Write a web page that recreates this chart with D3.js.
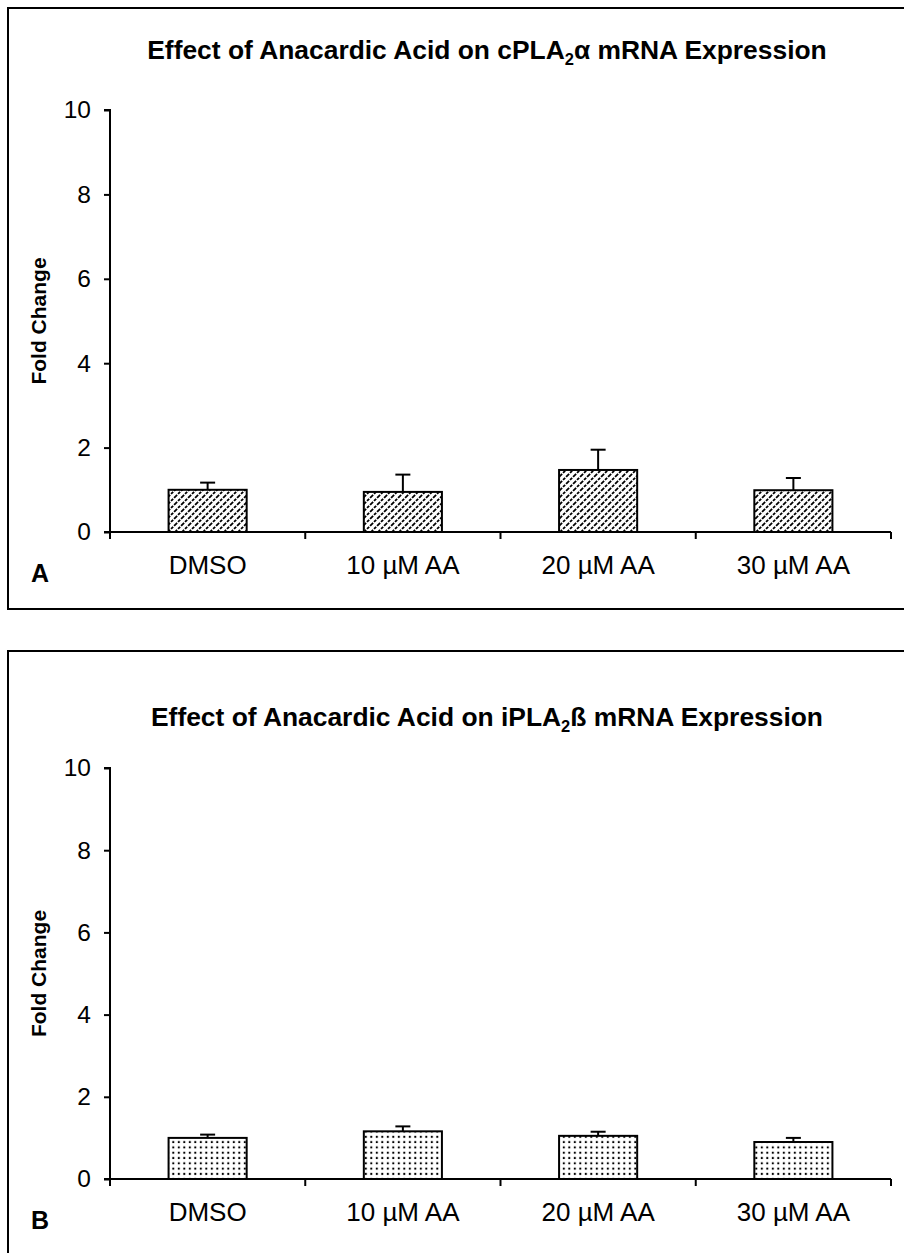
<!DOCTYPE html>
<html>
<head>
<meta charset="utf-8">
<script src="https://cdn.jsdelivr.net/npm/d3@7"></script>
<style>
  html, body { margin: 0; padding: 0; background: #fff; }
  svg { display: block; }
  text { font-family: "Liberation Sans", Arial, Helvetica, sans-serif; fill: #000; }
</style>
</head>
<body>
<svg id="chart" width="904" height="1253"></svg>
<script>
// ---- data ----
const categories = ["DMSO", "10 \u00b5M AA", "20 \u00b5M AA", "30 \u00b5M AA"];
const cplaValues = [1.0, 0.95, 1.47, 0.99];
const cplaErrors = [0.17, 0.41, 0.48, 0.29];
const iplaValues = [1.0, 1.16, 1.05, 0.90];
const iplaErrors = [0.08, 0.12, 0.10, 0.10];
const yTicks = [0, 2, 4, 6, 8, 10];
const panelLetters = ["A", "B"];

const svg = d3.select("#chart");
const defs = svg.append("defs");

// hatch pattern (panel A)
const hatch = defs.append("pattern")
  .attr("id", "hatch").attr("patternUnits", "userSpaceOnUse")
  .attr("width", 7).attr("height", 7);
hatch.append("rect").attr("width", 7).attr("height", 7).attr("fill", "#fff");
hatch.append("path")
  .attr("d", "M-1,1 l2,-2 M0,7 l7,-7 M6,8 l2,-2")
  .attr("stroke", "#000").attr("stroke-width", 1.8)
  .attr("stroke-dasharray", "3,1.3");

// dot pattern (panel B)
const dots = defs.append("pattern")
  .attr("id", "dots").attr("patternUnits", "userSpaceOnUse")
  .attr("width", 5.5).attr("height", 5.3);
dots.append("rect").attr("width", 5.5).attr("height", 5.3).attr("fill", "#fff");
dots.append("rect").attr("x", 1.8).attr("y", 1.6).attr("width", 2).attr("height", 2).attr("fill", "#000");

function panel(cfg) {
  const g = svg.append("g");
  // frame
  g.append("rect")
    .attr("x", cfg.box[0]).attr("y", cfg.box[1])
    .attr("width", cfg.box[2]).attr("height", cfg.box[3])
    .attr("fill", "none").attr("stroke", "#000").attr("stroke-width", 2);

  const x = d3.scaleBand().domain(categories).range([110, 891]).padding(0);
  const y = d3.scaleLinear().domain([0, 10]).range([cfg.y0, cfg.y10]);

  // title
  const t = g.append("text")
    .attr("x", cfg.titleX).attr("y", cfg.titleY)
    .attr("text-anchor", "middle")
    .attr("font-size", 26.4).attr("font-weight", "bold");
  t.append("tspan").text(cfg.titlePre);
  t.append("tspan").attr("font-size", 16.5).attr("dy", 6).text("2");
  t.append("tspan").attr("dy", -6).text(cfg.titlePost);

  // y axis
  const yAxis = d3.axisLeft(y).tickValues(yTicks).tickSize(6).tickPadding(13);
  const ya = g.append("g").attr("transform", "translate(110,0)").call(yAxis);
  ya.select(".domain").attr("stroke", "#000").attr("stroke-width", 2).attr("d", `M-6,${y(10)}H0V${y(0)}`);
  ya.selectAll(".tick line").attr("stroke", "#000").attr("stroke-width", 2);
  ya.selectAll(".tick text").attr("font-size", 24.5).attr("font-family", "Liberation Sans, Arial, sans-serif").attr("fill", "#000");

  // x axis (ticks at band boundaries)
  const xa = g.append("g").attr("transform", `translate(0,${cfg.y0})`);
  xa.append("line").attr("x1", x.range()[0] - 6).attr("x2", x.range()[1])
    .attr("stroke", "#000").attr("stroke-width", 2);
  const bounds = categories.map(c => x(c)).concat([x.range()[1]]);
  xa.selectAll("line.b").data(bounds).enter().append("line")
    .attr("x1", d => d).attr("x2", d => d).attr("y1", 0).attr("y2", 7)
    .attr("stroke", "#000").attr("stroke-width", 2);
  xa.selectAll("text").data(categories).enter().append("text")
    .attr("x", d => x(d) + x.bandwidth() / 2).attr("y", 42)
    .attr("text-anchor", "middle").attr("font-size", 26).text(d => d);

  // bars
  const bw = x.bandwidth() * 0.4;
  const data = categories.map((c, i) => ({ c, v: cfg.values[i], e: cfg.errors[i] }));
  g.selectAll("line.err").data(data).enter().append("line")
    .attr("x1", d => x(d.c) + x.bandwidth() / 2).attr("x2", d => x(d.c) + x.bandwidth() / 2)
    .attr("y1", d => y(d.v)).attr("y2", d => y(d.v + d.e))
    .attr("stroke", "#000").attr("stroke-width", 2);
  g.selectAll("line.cap").data(data).enter().append("line")
    .attr("x1", d => x(d.c) + x.bandwidth() / 2 - 7.5).attr("x2", d => x(d.c) + x.bandwidth() / 2 + 7.5)
    .attr("y1", d => y(d.v + d.e)).attr("y2", d => y(d.v + d.e))
    .attr("stroke", "#000").attr("stroke-width", 2);
  g.selectAll("rect.bar").data(data).enter().append("rect")
    .attr("x", d => x(d.c) + (x.bandwidth() - bw) / 2).attr("width", bw)
    .attr("y", d => y(d.v)).attr("height", d => y(0) - y(d.v))
    .attr("fill", `url(#${cfg.pattern})`).attr("stroke", "#000").attr("stroke-width", 2);

  // y label
  g.append("text")
    .attr("transform", `translate(46,${(cfg.y0 + cfg.y10) / 2}) rotate(-90)`)
    .attr("text-anchor", "middle").attr("font-size", 21).attr("font-weight", "bold")
    .text("Fold Change");

  // panel letter
  g.append("text").attr("x", 31).attr("y", cfg.y0 + 50)
    .attr("font-size", 25).attr("font-weight", "bold").text(cfg.letter);
}

panel({
  box: [8, 8, 910, 601], y0: 532, y10: 110,
  titleX: 487, titleY: 59,
  titlePre: "Effect of Anacardic Acid on cPLA", titlePost: "\u03b1 mRNA Expression",
  values: cplaValues, errors: cplaErrors, pattern: "hatch", letter: panelLetters[0]
});
panel({
  box: [8, 651, 910, 620], y0: 1179, y10: 768,
  titleX: 487, titleY: 726,
  titlePre: "Effect of Anacardic Acid on iPLA", titlePost: "\u00df mRNA Expression",
  values: iplaValues, errors: iplaErrors, pattern: "dots", letter: panelLetters[1]
});
</script>
</body>
</html>
